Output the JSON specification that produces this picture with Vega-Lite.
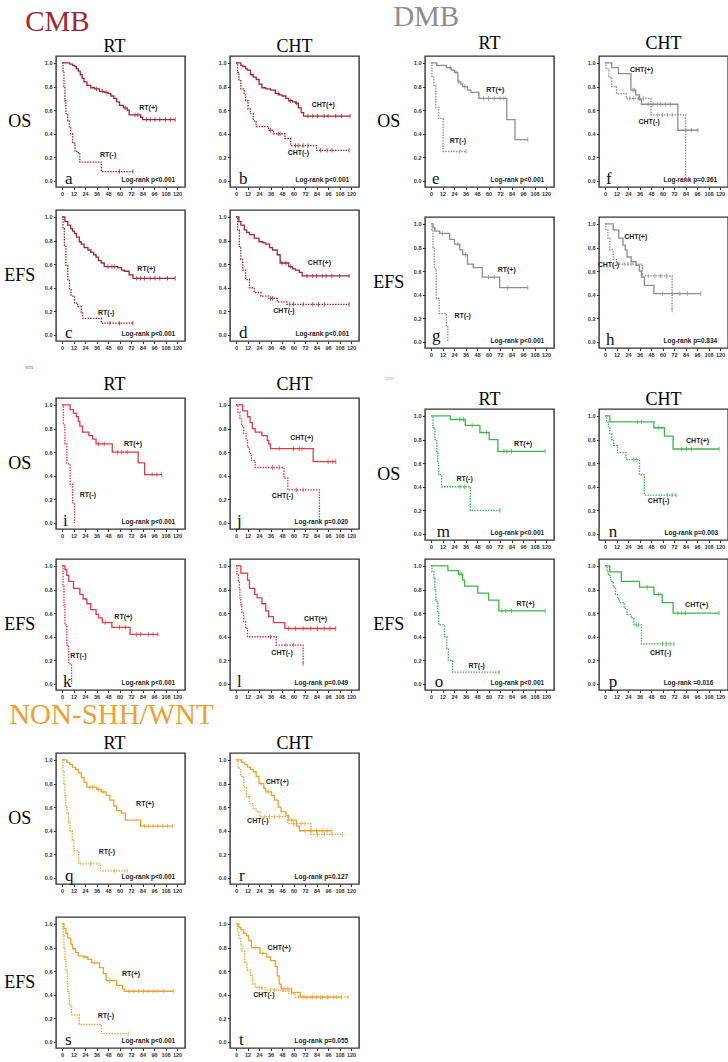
{
"$schema":"https://vega.github.io/schema/vega-lite/v6.json",
"background":"white",
"padding":{"left":3,"top":3,"right":0,"bottom":0},
"config":{
 "view":{"stroke":"#333","strokeWidth":1.4},
 "axis":{"domain":false,"grid":false,"tickSize":2.5,"tickColor":"#333","labelFont":"Liberation Sans","labelFontSize":5.5,"labelFontWeight":"bold","labelColor":"#333","labelPadding":1.5,"titleFont":"Liberation Serif","titleFontSize":18,"titleFontWeight":"normal","titleColor":"#000"},
 "axisY":{"titleAngle":0,"titleAlign":"center","titleBaseline":"middle","titlePadding":25},
 "title":{"font":"Liberation Serif","fontSize":18,"fontWeight":"normal","color":"#000","baseline":"alphabetic"}
},
"datasets":{
"km":[
{"p":"a","g":"+","t":0,"s":1},{"p":"a","g":"+","t":8,"s":0.99},{"p":"a","g":"+","t":11,"s":0.98},{"p":"a","g":"+","t":13,"s":0.97},{"p":"a","g":"+","t":15,"s":0.95},{"p":"a","g":"+","t":17,"s":0.93},{"p":"a","g":"+","t":19,"s":0.9},{"p":"a","g":"+","t":21,"s":0.87},{"p":"a","g":"+","t":23,"s":0.84},{"p":"a","g":"+","t":26,"s":0.81},{"p":"a","g":"+","t":30,"s":0.79},{"p":"a","g":"+","t":34,"s":0.78},{"p":"a","g":"+","t":39,"s":0.76},{"p":"a","g":"+","t":44,"s":0.75},{"p":"a","g":"+","t":48,"s":0.74},{"p":"a","g":"+","t":51,"s":0.72},{"p":"a","g":"+","t":54,"s":0.7},{"p":"a","g":"+","t":57,"s":0.67},{"p":"a","g":"+","t":60,"s":0.64},{"p":"a","g":"+","t":64,"s":0.62},{"p":"a","g":"+","t":68,"s":0.6},{"p":"a","g":"+","t":70,"s":0.56},{"p":"a","g":"+","t":82,"s":0.54},{"p":"a","g":"+","t":84,"s":0.52},
{"p":"a","g":"+","t":36,"s":0.78,"c":1},{"p":"a","g":"+","t":42,"s":0.76,"c":1},{"p":"a","g":"+","t":46,"s":0.75,"c":1},{"p":"a","g":"+","t":66,"s":0.62,"c":1},{"p":"a","g":"+","t":76,"s":0.56,"c":1},{"p":"a","g":"+","t":79,"s":0.56,"c":1},{"p":"a","g":"+","t":88,"s":0.52,"c":1},{"p":"a","g":"+","t":92,"s":0.52,"c":1},{"p":"a","g":"+","t":97,"s":0.52,"c":1},{"p":"a","g":"+","t":102,"s":0.52,"c":1},{"p":"a","g":"+","t":108,"s":0.52,"c":1},{"p":"a","g":"+","t":113,"s":0.52,"c":1},{"p":"a","g":"+","t":118,"s":0.52,"c":1},
{"p":"a","g":"-","t":0,"s":1},{"p":"a","g":"-","t":1,"s":0.92},{"p":"a","g":"-","t":2,"s":0.8},{"p":"a","g":"-","t":3,"s":0.68},{"p":"a","g":"-","t":4,"s":0.57},{"p":"a","g":"-","t":6,"s":0.51},{"p":"a","g":"-","t":7.5,"s":0.46},{"p":"a","g":"-","t":9,"s":0.4},{"p":"a","g":"-","t":11,"s":0.32},{"p":"a","g":"-","t":13.5,"s":0.25},{"p":"a","g":"-","t":17,"s":0.23},{"p":"a","g":"-","t":18.5,"s":0.16},{"p":"a","g":"-","t":41,"s":0.08},{"p":"a","g":"-","t":60,"s":0.08,"c":1},{"p":"a","g":"-","t":74,"s":0.08,"c":1},

{"p":"b","g":"+","t":0,"s":1},{"p":"b","g":"+","t":5,"s":0.98},{"p":"b","g":"+","t":7,"s":0.97},{"p":"b","g":"+","t":10,"s":0.95},{"p":"b","g":"+","t":12,"s":0.94},{"p":"b","g":"+","t":15,"s":0.9},{"p":"b","g":"+","t":18,"s":0.88},{"p":"b","g":"+","t":21,"s":0.86},{"p":"b","g":"+","t":24,"s":0.82},{"p":"b","g":"+","t":27,"s":0.79},{"p":"b","g":"+","t":31,"s":0.78},{"p":"b","g":"+","t":36,"s":0.77},{"p":"b","g":"+","t":41,"s":0.74},{"p":"b","g":"+","t":45,"s":0.73},{"p":"b","g":"+","t":48,"s":0.72},{"p":"b","g":"+","t":52,"s":0.7},{"p":"b","g":"+","t":55,"s":0.68},{"p":"b","g":"+","t":59,"s":0.67},{"p":"b","g":"+","t":62,"s":0.66},{"p":"b","g":"+","t":65,"s":0.62},{"p":"b","g":"+","t":68,"s":0.58},{"p":"b","g":"+","t":70.5,"s":0.55},
{"p":"b","g":"+","t":44,"s":0.74,"c":1},{"p":"b","g":"+","t":57,"s":0.68,"c":1},{"p":"b","g":"+","t":63,"s":0.66,"c":1},{"p":"b","g":"+","t":75,"s":0.55,"c":1},{"p":"b","g":"+","t":80,"s":0.55,"c":1},{"p":"b","g":"+","t":85,"s":0.55,"c":1},{"p":"b","g":"+","t":92,"s":0.55,"c":1},{"p":"b","g":"+","t":96,"s":0.55,"c":1},{"p":"b","g":"+","t":104,"s":0.55,"c":1},{"p":"b","g":"+","t":110,"s":0.55,"c":1},{"p":"b","g":"+","t":119,"s":0.55,"c":1},
{"p":"b","g":"-","t":0,"s":1},{"p":"b","g":"-","t":1.5,"s":0.92},{"p":"b","g":"-","t":3,"s":0.85},{"p":"b","g":"-","t":5,"s":0.78},{"p":"b","g":"-","t":8.5,"s":0.73},{"p":"b","g":"-","t":10,"s":0.68},{"p":"b","g":"-","t":12.5,"s":0.61},{"p":"b","g":"-","t":15,"s":0.57},{"p":"b","g":"-","t":18,"s":0.51},{"p":"b","g":"-","t":21,"s":0.46},{"p":"b","g":"-","t":34,"s":0.43},{"p":"b","g":"-","t":39,"s":0.4},{"p":"b","g":"-","t":51,"s":0.36},{"p":"b","g":"-","t":57,"s":0.3},{"p":"b","g":"-","t":84,"s":0.26},
{"p":"b","g":"-","t":36,"s":0.43,"c":1},{"p":"b","g":"-","t":44,"s":0.4,"c":1},{"p":"b","g":"-","t":46,"s":0.4,"c":1},{"p":"b","g":"-","t":62,"s":0.3,"c":1},{"p":"b","g":"-","t":65,"s":0.3,"c":1},{"p":"b","g":"-","t":70,"s":0.3,"c":1},{"p":"b","g":"-","t":75,"s":0.3,"c":1},{"p":"b","g":"-","t":88,"s":0.26,"c":1},{"p":"b","g":"-","t":95,"s":0.26,"c":1},{"p":"b","g":"-","t":100,"s":0.26,"c":1},{"p":"b","g":"-","t":118,"s":0.26,"c":1},

{"p":"c","g":"+","t":0,"s":1},{"p":"c","g":"+","t":3,"s":0.96},{"p":"c","g":"+","t":6,"s":0.93},{"p":"c","g":"+","t":9,"s":0.9},{"p":"c","g":"+","t":11,"s":0.88},{"p":"c","g":"+","t":13,"s":0.86},{"p":"c","g":"+","t":15,"s":0.83},{"p":"c","g":"+","t":18,"s":0.79},{"p":"c","g":"+","t":20,"s":0.77},{"p":"c","g":"+","t":23,"s":0.74},{"p":"c","g":"+","t":27,"s":0.72},{"p":"c","g":"+","t":30,"s":0.7},{"p":"c","g":"+","t":33,"s":0.68},{"p":"c","g":"+","t":35.5,"s":0.66},{"p":"c","g":"+","t":38,"s":0.63},{"p":"c","g":"+","t":41,"s":0.61},{"p":"c","g":"+","t":44,"s":0.58},{"p":"c","g":"+","t":58,"s":0.57},{"p":"c","g":"+","t":62,"s":0.55},{"p":"c","g":"+","t":65,"s":0.54},{"p":"c","g":"+","t":70,"s":0.51},{"p":"c","g":"+","t":74,"s":0.48},
{"p":"c","g":"+","t":48,"s":0.58,"c":1},{"p":"c","g":"+","t":52,"s":0.58,"c":1},{"p":"c","g":"+","t":55,"s":0.58,"c":1},{"p":"c","g":"+","t":78,"s":0.48,"c":1},{"p":"c","g":"+","t":82,"s":0.48,"c":1},{"p":"c","g":"+","t":86,"s":0.48,"c":1},{"p":"c","g":"+","t":92,"s":0.48,"c":1},{"p":"c","g":"+","t":97,"s":0.48,"c":1},{"p":"c","g":"+","t":102,"s":0.48,"c":1},{"p":"c","g":"+","t":110,"s":0.48,"c":1},{"p":"c","g":"+","t":118,"s":0.48,"c":1},
{"p":"c","g":"-","t":0,"s":1},{"p":"c","g":"-","t":1,"s":0.9},{"p":"c","g":"-","t":2.4,"s":0.76},{"p":"c","g":"-","t":4,"s":0.59},{"p":"c","g":"-","t":6,"s":0.47},{"p":"c","g":"-","t":7.7,"s":0.39},{"p":"c","g":"-","t":9.4,"s":0.33},{"p":"c","g":"-","t":13,"s":0.27},{"p":"c","g":"-","t":16.4,"s":0.24},{"p":"c","g":"-","t":20,"s":0.19},{"p":"c","g":"-","t":21.6,"s":0.14},{"p":"c","g":"-","t":41,"s":0.1},{"p":"c","g":"-","t":50,"s":0.1,"c":1},{"p":"c","g":"-","t":60,"s":0.1,"c":1},{"p":"c","g":"-","t":74,"s":0.1,"c":1},

{"p":"d","g":"+","t":0,"s":1},{"p":"d","g":"+","t":3,"s":0.96},{"p":"d","g":"+","t":5,"s":0.93},{"p":"d","g":"+","t":8.6,"s":0.89},{"p":"d","g":"+","t":11,"s":0.87},{"p":"d","g":"+","t":14,"s":0.85},{"p":"d","g":"+","t":19,"s":0.82},{"p":"d","g":"+","t":24,"s":0.79},{"p":"d","g":"+","t":28,"s":0.78},{"p":"d","g":"+","t":31,"s":0.77},{"p":"d","g":"+","t":35,"s":0.74},{"p":"d","g":"+","t":38,"s":0.72},{"p":"d","g":"+","t":43,"s":0.68},{"p":"d","g":"+","t":46,"s":0.61},{"p":"d","g":"+","t":55,"s":0.58},{"p":"d","g":"+","t":59,"s":0.56},{"p":"d","g":"+","t":62,"s":0.55},{"p":"d","g":"+","t":66,"s":0.53},{"p":"d","g":"+","t":69,"s":0.5},
{"p":"d","g":"+","t":48,"s":0.61,"c":1},{"p":"d","g":"+","t":52,"s":0.61,"c":1},{"p":"d","g":"+","t":57,"s":0.58,"c":1},{"p":"d","g":"+","t":74,"s":0.5,"c":1},{"p":"d","g":"+","t":80,"s":0.5,"c":1},{"p":"d","g":"+","t":84,"s":0.5,"c":1},{"p":"d","g":"+","t":90,"s":0.5,"c":1},{"p":"d","g":"+","t":94,"s":0.5,"c":1},{"p":"d","g":"+","t":100,"s":0.5,"c":1},{"p":"d","g":"+","t":108,"s":0.5,"c":1},{"p":"d","g":"+","t":118,"s":0.5,"c":1},
{"p":"d","g":"-","t":0,"s":1},{"p":"d","g":"-","t":1.7,"s":0.89},{"p":"d","g":"-","t":3.4,"s":0.75},{"p":"d","g":"-","t":5,"s":0.64},{"p":"d","g":"-","t":7,"s":0.55},{"p":"d","g":"-","t":10,"s":0.47},{"p":"d","g":"-","t":14,"s":0.4},{"p":"d","g":"-","t":19,"s":0.36},{"p":"d","g":"-","t":26,"s":0.33},{"p":"d","g":"-","t":34,"s":0.31},{"p":"d","g":"-","t":43,"s":0.28},{"p":"d","g":"-","t":53,"s":0.26},
{"p":"d","g":"-","t":36,"s":0.31,"c":1},{"p":"d","g":"-","t":38,"s":0.31,"c":1},{"p":"d","g":"-","t":56,"s":0.26,"c":1},{"p":"d","g":"-","t":60,"s":0.26,"c":1},{"p":"d","g":"-","t":70,"s":0.26,"c":1},{"p":"d","g":"-","t":80,"s":0.26,"c":1},{"p":"d","g":"-","t":86,"s":0.26,"c":1},{"p":"d","g":"-","t":92,"s":0.26,"c":1},{"p":"d","g":"-","t":118,"s":0.26,"c":1},

{"p":"e","g":"+","t":0,"s":1},{"p":"e","g":"+","t":6,"s":0.98},{"p":"e","g":"+","t":16,"s":0.96},{"p":"e","g":"+","t":21,"s":0.94},{"p":"e","g":"+","t":24.5,"s":0.92},{"p":"e","g":"+","t":28,"s":0.84},{"p":"e","g":"+","t":31,"s":0.82},{"p":"e","g":"+","t":33,"s":0.8},{"p":"e","g":"+","t":38,"s":0.77},{"p":"e","g":"+","t":41.6,"s":0.75},{"p":"e","g":"+","t":50,"s":0.7},{"p":"e","g":"+","t":79,"s":0.52},{"p":"e","g":"+","t":87.6,"s":0.35},
{"p":"e","g":"+","t":20,"s":0.96,"c":1},{"p":"e","g":"+","t":26,"s":0.92,"c":1},{"p":"e","g":"+","t":29,"s":0.84,"c":1},{"p":"e","g":"+","t":35,"s":0.8,"c":1},{"p":"e","g":"+","t":55,"s":0.7,"c":1},{"p":"e","g":"+","t":60,"s":0.7,"c":1},{"p":"e","g":"+","t":66,"s":0.7,"c":1},{"p":"e","g":"+","t":72,"s":0.7,"c":1},{"p":"e","g":"+","t":76,"s":0.7,"c":1},{"p":"e","g":"+","t":101,"s":0.35,"c":1},
{"p":"e","g":"-","t":0,"s":1},{"p":"e","g":"-","t":1,"s":0.88},{"p":"e","g":"-","t":3,"s":0.81},{"p":"e","g":"-","t":5,"s":0.62},{"p":"e","g":"-","t":8,"s":0.53},{"p":"e","g":"-","t":12.6,"s":0.25},{"p":"e","g":"-","t":30,"s":0.25,"c":1},{"p":"e","g":"-","t":36.5,"s":0.25,"c":1},

{"p":"f","g":"+","t":0,"s":1},{"p":"f","g":"+","t":7,"s":0.96},{"p":"f","g":"+","t":14,"s":0.91},{"p":"f","g":"+","t":27,"s":0.77},{"p":"f","g":"+","t":32,"s":0.73},{"p":"f","g":"+","t":36,"s":0.69},{"p":"f","g":"+","t":38,"s":0.65},{"p":"f","g":"+","t":76,"s":0.43},
{"p":"f","g":"+","t":29,"s":0.77,"c":1},{"p":"f","g":"+","t":31,"s":0.77,"c":1},{"p":"f","g":"+","t":45,"s":0.65,"c":1},{"p":"f","g":"+","t":50,"s":0.65,"c":1},{"p":"f","g":"+","t":55,"s":0.65,"c":1},{"p":"f","g":"+","t":58,"s":0.65,"c":1},{"p":"f","g":"+","t":63,"s":0.65,"c":1},{"p":"f","g":"+","t":68,"s":0.65,"c":1},{"p":"f","g":"+","t":90,"s":0.43,"c":1},{"p":"f","g":"+","t":97,"s":0.43,"c":1},
{"p":"f","g":"-","t":0,"s":1},{"p":"f","g":"-","t":1,"s":0.95},{"p":"f","g":"-","t":4,"s":0.88},{"p":"f","g":"-","t":7,"s":0.8},{"p":"f","g":"-","t":12,"s":0.74},{"p":"f","g":"-","t":22,"s":0.7},{"p":"f","g":"-","t":48,"s":0.56},{"p":"f","g":"-","t":84,"s":0},
{"p":"f","g":"-","t":26,"s":0.7,"c":1},{"p":"f","g":"-","t":30,"s":0.7,"c":1},{"p":"f","g":"-","t":35,"s":0.7,"c":1},{"p":"f","g":"-","t":40,"s":0.7,"c":1},{"p":"f","g":"-","t":55,"s":0.56,"c":1},{"p":"f","g":"-","t":60,"s":0.56,"c":1},{"p":"f","g":"-","t":65,"s":0.56,"c":1},{"p":"f","g":"-","t":70,"s":0.56,"c":1},

{"p":"g","g":"+","t":0,"s":1},{"p":"g","g":"+","t":2,"s":0.97},{"p":"g","g":"+","t":4,"s":0.94},{"p":"g","g":"+","t":9,"s":0.92},{"p":"g","g":"+","t":19.4,"s":0.87},{"p":"g","g":"+","t":24.5,"s":0.83},{"p":"g","g":"+","t":30,"s":0.78},{"p":"g","g":"+","t":33,"s":0.74},{"p":"g","g":"+","t":38,"s":0.66},{"p":"g","g":"+","t":44,"s":0.63},{"p":"g","g":"+","t":53.5,"s":0.55},{"p":"g","g":"+","t":71.6,"s":0.46},
{"p":"g","g":"+","t":12,"s":0.92,"c":1},{"p":"g","g":"+","t":28,"s":0.83,"c":1},{"p":"g","g":"+","t":36,"s":0.74,"c":1},{"p":"g","g":"+","t":60,"s":0.55,"c":1},{"p":"g","g":"+","t":66,"s":0.55,"c":1},{"p":"g","g":"+","t":80,"s":0.46,"c":1},{"p":"g","g":"+","t":101,"s":0.46,"c":1},
{"p":"g","g":"-","t":0,"s":1},{"p":"g","g":"-","t":1,"s":0.95},{"p":"g","g":"-","t":2,"s":0.8},{"p":"g","g":"-","t":3.5,"s":0.62},{"p":"g","g":"-","t":5.5,"s":0.37},{"p":"g","g":"-","t":8.5,"s":0.24},{"p":"g","g":"-","t":16,"s":0.14},{"p":"g","g":"-","t":17.5,"s":0},

{"p":"h","g":"+","t":0,"s":1},{"p":"h","g":"+","t":8.5,"s":0.95},{"p":"h","g":"+","t":14.3,"s":0.88},{"p":"h","g":"+","t":18.8,"s":0.82},{"p":"h","g":"+","t":21,"s":0.78},{"p":"h","g":"+","t":23,"s":0.72},{"p":"h","g":"+","t":27.3,"s":0.68},{"p":"h","g":"+","t":32.4,"s":0.65},{"p":"h","g":"+","t":35.8,"s":0.6},{"p":"h","g":"+","t":38,"s":0.55},{"p":"h","g":"+","t":41,"s":0.48},{"p":"h","g":"+","t":51,"s":0.41},
{"p":"h","g":"+","t":60,"s":0.41,"c":1},{"p":"h","g":"+","t":70,"s":0.41,"c":1},{"p":"h","g":"+","t":78,"s":0.41,"c":1},{"p":"h","g":"+","t":86,"s":0.41,"c":1},{"p":"h","g":"+","t":100,"s":0.41,"c":1},
{"p":"h","g":"-","t":0,"s":1},{"p":"h","g":"-","t":1,"s":0.95},{"p":"h","g":"-","t":3,"s":0.88},{"p":"h","g":"-","t":5,"s":0.78},{"p":"h","g":"-","t":8.5,"s":0.7},{"p":"h","g":"-","t":12,"s":0.66},{"p":"h","g":"-","t":39,"s":0.56},{"p":"h","g":"-","t":70,"s":0.27,"c":1},
{"p":"h","g":"-","t":20,"s":0.66,"c":1},{"p":"h","g":"-","t":24,"s":0.66,"c":1},{"p":"h","g":"-","t":28,"s":0.66,"c":1},{"p":"h","g":"-","t":45,"s":0.56,"c":1},{"p":"h","g":"-","t":52,"s":0.56,"c":1},{"p":"h","g":"-","t":58,"s":0.56,"c":1},{"p":"h","g":"-","t":64,"s":0.56,"c":1},

{"p":"i","g":"+","t":0,"s":1},{"p":"i","g":"+","t":8.5,"s":0.96},{"p":"i","g":"+","t":11.8,"s":0.93},{"p":"i","g":"+","t":15,"s":0.9},{"p":"i","g":"+","t":17,"s":0.86},{"p":"i","g":"+","t":18.6,"s":0.82},{"p":"i","g":"+","t":21.3,"s":0.77},{"p":"i","g":"+","t":28,"s":0.74},{"p":"i","g":"+","t":32,"s":0.71},{"p":"i","g":"+","t":35.5,"s":0.67},{"p":"i","g":"+","t":52.4,"s":0.6},{"p":"i","g":"+","t":79.4,"s":0.51},{"p":"i","g":"+","t":86.2,"s":0.41},
{"p":"i","g":"+","t":38,"s":0.67,"c":1},{"p":"i","g":"+","t":44,"s":0.67,"c":1},{"p":"i","g":"+","t":58,"s":0.6,"c":1},{"p":"i","g":"+","t":62,"s":0.6,"c":1},{"p":"i","g":"+","t":68,"s":0.6,"c":1},{"p":"i","g":"+","t":94,"s":0.41,"c":1},{"p":"i","g":"+","t":99,"s":0.41,"c":1},{"p":"i","g":"+","t":104,"s":0.41,"c":1},
{"p":"i","g":"-","t":0,"s":1},{"p":"i","g":"-","t":1.5,"s":0.83},{"p":"i","g":"-","t":3,"s":0.67},{"p":"i","g":"-","t":5,"s":0.5},{"p":"i","g":"-","t":8.5,"s":0.33},{"p":"i","g":"-","t":11,"s":0.17},{"p":"i","g":"-","t":13,"s":0},

{"p":"j","g":"+","t":0,"s":1},{"p":"j","g":"+","t":7,"s":0.95},{"p":"j","g":"+","t":12,"s":0.9},{"p":"j","g":"+","t":14.7,"s":0.85},{"p":"j","g":"+","t":17,"s":0.8},{"p":"j","g":"+","t":20,"s":0.77},{"p":"j","g":"+","t":27,"s":0.74},{"p":"j","g":"+","t":32.6,"s":0.7},{"p":"j","g":"+","t":34,"s":0.67},{"p":"j","g":"+","t":36,"s":0.63},{"p":"j","g":"+","t":80.5,"s":0.52},
{"p":"j","g":"+","t":45,"s":0.63,"c":1},{"p":"j","g":"+","t":60,"s":0.63,"c":1},{"p":"j","g":"+","t":66,"s":0.63,"c":1},{"p":"j","g":"+","t":69,"s":0.63,"c":1},{"p":"j","g":"+","t":96,"s":0.52,"c":1},{"p":"j","g":"+","t":101,"s":0.52,"c":1},{"p":"j","g":"+","t":104,"s":0.52,"c":1},
{"p":"j","g":"-","t":0,"s":1},{"p":"j","g":"-","t":2,"s":0.94},{"p":"j","g":"-","t":4,"s":0.88},{"p":"j","g":"-","t":6,"s":0.82},{"p":"j","g":"-","t":8,"s":0.76},{"p":"j","g":"-","t":10.5,"s":0.7},{"p":"j","g":"-","t":12,"s":0.64},{"p":"j","g":"-","t":14,"s":0.59},{"p":"j","g":"-","t":16,"s":0.53},{"p":"j","g":"-","t":20,"s":0.47},{"p":"j","g":"-","t":50,"s":0.38},{"p":"j","g":"-","t":54,"s":0.28},{"p":"j","g":"-","t":87,"s":0},
{"p":"j","g":"-","t":38,"s":0.47,"c":1},{"p":"j","g":"-","t":45,"s":0.47,"c":1},{"p":"j","g":"-","t":63,"s":0.28,"c":1},{"p":"j","g":"-","t":70,"s":0.28,"c":1},

{"p":"k","g":"+","t":0,"s":1},{"p":"k","g":"+","t":3,"s":0.97},{"p":"k","g":"+","t":5,"s":0.92},{"p":"k","g":"+","t":7,"s":0.87},{"p":"k","g":"+","t":12,"s":0.81},{"p":"k","g":"+","t":18.6,"s":0.76},{"p":"k","g":"+","t":22,"s":0.72},{"p":"k","g":"+","t":26,"s":0.68},{"p":"k","g":"+","t":30,"s":0.63},{"p":"k","g":"+","t":35.5,"s":0.59},{"p":"k","g":"+","t":38,"s":0.56},{"p":"k","g":"+","t":42,"s":0.52},{"p":"k","g":"+","t":52,"s":0.48},{"p":"k","g":"+","t":71,"s":0.42},
{"p":"k","g":"+","t":45,"s":0.52,"c":1},{"p":"k","g":"+","t":60,"s":0.48,"c":1},{"p":"k","g":"+","t":66,"s":0.48,"c":1},{"p":"k","g":"+","t":78,"s":0.42,"c":1},{"p":"k","g":"+","t":82,"s":0.42,"c":1},{"p":"k","g":"+","t":90,"s":0.42,"c":1},{"p":"k","g":"+","t":95,"s":0.42,"c":1},{"p":"k","g":"+","t":100,"s":0.42,"c":1},
{"p":"k","g":"-","t":0,"s":1},{"p":"k","g":"-","t":1,"s":0.83},{"p":"k","g":"-","t":2,"s":0.67},{"p":"k","g":"-","t":3,"s":0.5},{"p":"k","g":"-","t":5,"s":0.33},{"p":"k","g":"-","t":7,"s":0.17},{"p":"k","g":"-","t":10,"s":0},

{"p":"l","g":"+","t":0,"s":1},{"p":"l","g":"+","t":5,"s":0.94},{"p":"l","g":"+","t":12,"s":0.88},{"p":"l","g":"+","t":14,"s":0.81},{"p":"l","g":"+","t":19.5,"s":0.76},{"p":"l","g":"+","t":22,"s":0.73},{"p":"l","g":"+","t":27,"s":0.68},{"p":"l","g":"+","t":31,"s":0.62},{"p":"l","g":"+","t":34,"s":0.57},{"p":"l","g":"+","t":39,"s":0.52},{"p":"l","g":"+","t":51,"s":0.47},
{"p":"l","g":"+","t":55,"s":0.47,"c":1},{"p":"l","g":"+","t":62,"s":0.47,"c":1},{"p":"l","g":"+","t":70,"s":0.47,"c":1},{"p":"l","g":"+","t":78,"s":0.47,"c":1},{"p":"l","g":"+","t":85,"s":0.47,"c":1},{"p":"l","g":"+","t":92,"s":0.47,"c":1},{"p":"l","g":"+","t":98,"s":0.47,"c":1},{"p":"l","g":"+","t":104,"s":0.47,"c":1},
{"p":"l","g":"-","t":0,"s":1},{"p":"l","g":"-","t":1,"s":0.93},{"p":"l","g":"-","t":2.4,"s":0.87},{"p":"l","g":"-","t":3.4,"s":0.8},{"p":"l","g":"-","t":4,"s":0.73},{"p":"l","g":"-","t":5,"s":0.67},{"p":"l","g":"-","t":6,"s":0.6},{"p":"l","g":"-","t":8,"s":0.53},{"p":"l","g":"-","t":10,"s":0.47},{"p":"l","g":"-","t":12,"s":0.4},{"p":"l","g":"-","t":42,"s":0.33},{"p":"l","g":"-","t":70,"s":0.17,"c":1},
{"p":"l","g":"-","t":36,"s":0.4,"c":1},{"p":"l","g":"-","t":52,"s":0.33,"c":1},{"p":"l","g":"-","t":60,"s":0.33,"c":1},

{"p":"m","g":"+","t":0,"s":1},{"p":"m","g":"+","t":20,"s":0.97},{"p":"m","g":"+","t":35.7,"s":0.92},{"p":"m","g":"+","t":51,"s":0.86},{"p":"m","g":"+","t":60.7,"s":0.8},{"p":"m","g":"+","t":69.7,"s":0.7},
{"p":"m","g":"+","t":30,"s":0.97,"c":1},{"p":"m","g":"+","t":34,"s":0.97,"c":1},{"p":"m","g":"+","t":43,"s":0.92,"c":1},{"p":"m","g":"+","t":58,"s":0.86,"c":1},{"p":"m","g":"+","t":76,"s":0.7,"c":1},{"p":"m","g":"+","t":79,"s":0.7,"c":1},{"p":"m","g":"+","t":84,"s":0.7,"c":1},{"p":"m","g":"+","t":119,"s":0.7,"c":1},
{"p":"m","g":"-","t":0,"s":1},{"p":"m","g":"-","t":2,"s":0.9},{"p":"m","g":"-","t":4,"s":0.8},{"p":"m","g":"-","t":6,"s":0.7},{"p":"m","g":"-","t":7,"s":0.6},{"p":"m","g":"-","t":8,"s":0.5},{"p":"m","g":"-","t":11,"s":0.4},{"p":"m","g":"-","t":41,"s":0.2},
{"p":"m","g":"-","t":30,"s":0.4,"c":1},{"p":"m","g":"-","t":35,"s":0.4,"c":1},{"p":"m","g":"-","t":72,"s":0.2,"c":1},

{"p":"n","g":"+","t":0,"s":1},{"p":"n","g":"+","t":5,"s":0.95},{"p":"n","g":"+","t":51,"s":0.9},{"p":"n","g":"+","t":62,"s":0.83},{"p":"n","g":"+","t":71,"s":0.72},
{"p":"n","g":"+","t":34,"s":0.95,"c":1},{"p":"n","g":"+","t":38,"s":0.95,"c":1},{"p":"n","g":"+","t":56,"s":0.9,"c":1},{"p":"n","g":"+","t":80,"s":0.72,"c":1},{"p":"n","g":"+","t":85,"s":0.72,"c":1},{"p":"n","g":"+","t":90,"s":0.72,"c":1},{"p":"n","g":"+","t":119,"s":0.72,"c":1},
{"p":"n","g":"-","t":0,"s":1},{"p":"n","g":"-","t":1.5,"s":0.95},{"p":"n","g":"-","t":3.5,"s":0.9},{"p":"n","g":"-","t":5,"s":0.85},{"p":"n","g":"-","t":7,"s":0.8},{"p":"n","g":"-","t":9,"s":0.75},{"p":"n","g":"-","t":13,"s":0.69},{"p":"n","g":"-","t":22,"s":0.63},{"p":"n","g":"-","t":36,"s":0.5},{"p":"n","g":"-","t":41,"s":0.33},
{"p":"n","g":"-","t":30,"s":0.63,"c":1},{"p":"n","g":"-","t":33,"s":0.63,"c":1},{"p":"n","g":"-","t":65,"s":0.33,"c":1},{"p":"n","g":"-","t":70,"s":0.33,"c":1},{"p":"n","g":"-","t":74,"s":0.33,"c":1},

{"p":"o","g":"+","t":0,"s":1},{"p":"o","g":"+","t":17.6,"s":0.96},{"p":"o","g":"+","t":28.6,"s":0.93},{"p":"o","g":"+","t":33,"s":0.88},{"p":"o","g":"+","t":35,"s":0.83},{"p":"o","g":"+","t":48.8,"s":0.77},{"p":"o","g":"+","t":60,"s":0.71},{"p":"o","g":"+","t":70.7,"s":0.62},
{"p":"o","g":"+","t":30,"s":0.93,"c":1},{"p":"o","g":"+","t":32,"s":0.93,"c":1},{"p":"o","g":"+","t":74,"s":0.62,"c":1},{"p":"o","g":"+","t":78,"s":0.62,"c":1},{"p":"o","g":"+","t":84,"s":0.62,"c":1},{"p":"o","g":"+","t":119,"s":0.62,"c":1},
{"p":"o","g":"-","t":0,"s":1},{"p":"o","g":"-","t":1,"s":0.95},{"p":"o","g":"-","t":3,"s":0.9},{"p":"o","g":"-","t":4,"s":0.8},{"p":"o","g":"-","t":5,"s":0.7},{"p":"o","g":"-","t":7,"s":0.6},{"p":"o","g":"-","t":8,"s":0.5},{"p":"o","g":"-","t":14,"s":0.4},{"p":"o","g":"-","t":16.5,"s":0.3},{"p":"o","g":"-","t":18,"s":0.2},{"p":"o","g":"-","t":22.5,"s":0.1},{"p":"o","g":"-","t":71,"s":0.1,"c":1},

{"p":"p","g":"+","t":0,"s":1},{"p":"p","g":"+","t":5,"s":0.95},{"p":"p","g":"+","t":17,"s":0.87},{"p":"p","g":"+","t":36,"s":0.82},{"p":"p","g":"+","t":51,"s":0.76},{"p":"p","g":"+","t":59.6,"s":0.69},{"p":"p","g":"+","t":71,"s":0.6},
{"p":"p","g":"+","t":44,"s":0.82,"c":1},{"p":"p","g":"+","t":56,"s":0.76,"c":1},{"p":"p","g":"+","t":76,"s":0.6,"c":1},{"p":"p","g":"+","t":80,"s":0.6,"c":1},{"p":"p","g":"+","t":84,"s":0.6,"c":1},{"p":"p","g":"+","t":119,"s":0.6,"c":1},
{"p":"p","g":"-","t":0,"s":1},{"p":"p","g":"-","t":2,"s":0.95},{"p":"p","g":"-","t":3.5,"s":0.92},{"p":"p","g":"-","t":6,"s":0.87},{"p":"p","g":"-","t":8.5,"s":0.82},{"p":"p","g":"-","t":11,"s":0.76},{"p":"p","g":"-","t":13,"s":0.72},{"p":"p","g":"-","t":15,"s":0.69},{"p":"p","g":"-","t":20,"s":0.64},{"p":"p","g":"-","t":23,"s":0.59},{"p":"p","g":"-","t":27,"s":0.56},{"p":"p","g":"-","t":30,"s":0.5},{"p":"p","g":"-","t":38,"s":0.34},
{"p":"p","g":"-","t":33,"s":0.5,"c":1},{"p":"p","g":"-","t":35,"s":0.5,"c":1},{"p":"p","g":"-","t":60,"s":0.34,"c":1},{"p":"p","g":"-","t":64,"s":0.34,"c":1},{"p":"p","g":"-","t":68,"s":0.34,"c":1},{"p":"p","g":"-","t":72,"s":0.34,"c":1},

{"p":"q","g":"+","t":0,"s":1},{"p":"q","g":"+","t":5,"s":0.98},{"p":"q","g":"+","t":8,"s":0.96},{"p":"q","g":"+","t":11,"s":0.94},{"p":"q","g":"+","t":14,"s":0.92},{"p":"q","g":"+","t":17,"s":0.89},{"p":"q","g":"+","t":20,"s":0.85},{"p":"q","g":"+","t":23,"s":0.81},{"p":"q","g":"+","t":26,"s":0.77},{"p":"q","g":"+","t":36,"s":0.75},{"p":"q","g":"+","t":41,"s":0.73},{"p":"q","g":"+","t":46,"s":0.7},{"p":"q","g":"+","t":50,"s":0.66},{"p":"q","g":"+","t":54,"s":0.61},{"p":"q","g":"+","t":57,"s":0.57},{"p":"q","g":"+","t":62,"s":0.55},{"p":"q","g":"+","t":66,"s":0.49},{"p":"q","g":"+","t":82,"s":0.44},
{"p":"q","g":"+","t":29,"s":0.77,"c":1},{"p":"q","g":"+","t":32,"s":0.77,"c":1},{"p":"q","g":"+","t":38,"s":0.75,"c":1},{"p":"q","g":"+","t":43,"s":0.73,"c":1},{"p":"q","g":"+","t":86,"s":0.44,"c":1},{"p":"q","g":"+","t":90,"s":0.44,"c":1},{"p":"q","g":"+","t":95,"s":0.44,"c":1},{"p":"q","g":"+","t":100,"s":0.44,"c":1},{"p":"q","g":"+","t":105,"s":0.44,"c":1},{"p":"q","g":"+","t":110,"s":0.44,"c":1},{"p":"q","g":"+","t":115,"s":0.44,"c":1},
{"p":"q","g":"-","t":0,"s":1},{"p":"q","g":"-","t":1,"s":0.9},{"p":"q","g":"-","t":2,"s":0.8},{"p":"q","g":"-","t":3,"s":0.7},{"p":"q","g":"-","t":4,"s":0.6},{"p":"q","g":"-","t":5,"s":0.55},{"p":"q","g":"-","t":6.7,"s":0.47},{"p":"q","g":"-","t":8.3,"s":0.4},{"p":"q","g":"-","t":10.7,"s":0.32},{"p":"q","g":"-","t":12.3,"s":0.23},{"p":"q","g":"-","t":17.3,"s":0.12},{"p":"q","g":"-","t":40,"s":0.06},
{"p":"q","g":"-","t":30,"s":0.12,"c":1},{"p":"q","g":"-","t":55,"s":0.06,"c":1},{"p":"q","g":"-","t":68,"s":0.06,"c":1},

{"p":"r","g":"+","t":0,"s":1},{"p":"r","g":"+","t":6,"s":0.98},{"p":"r","g":"+","t":9,"s":0.96},{"p":"r","g":"+","t":12,"s":0.94},{"p":"r","g":"+","t":15,"s":0.92},{"p":"r","g":"+","t":18,"s":0.9},{"p":"r","g":"+","t":21,"s":0.86},{"p":"r","g":"+","t":24,"s":0.8},{"p":"r","g":"+","t":29,"s":0.76},{"p":"r","g":"+","t":31,"s":0.73},{"p":"r","g":"+","t":37,"s":0.7},{"p":"r","g":"+","t":40,"s":0.66},{"p":"r","g":"+","t":44,"s":0.6},{"p":"r","g":"+","t":47,"s":0.56},{"p":"r","g":"+","t":52,"s":0.53},{"p":"r","g":"+","t":55,"s":0.49},{"p":"r","g":"+","t":63,"s":0.44},{"p":"r","g":"+","t":66,"s":0.4},
{"p":"r","g":"+","t":26,"s":0.8,"c":1},{"p":"r","g":"+","t":34,"s":0.73,"c":1},{"p":"r","g":"+","t":58,"s":0.49,"c":1},{"p":"r","g":"+","t":72,"s":0.4,"c":1},{"p":"r","g":"+","t":78,"s":0.4,"c":1},{"p":"r","g":"+","t":84,"s":0.4,"c":1},{"p":"r","g":"+","t":90,"s":0.4,"c":1},{"p":"r","g":"+","t":95,"s":0.4,"c":1},{"p":"r","g":"+","t":100,"s":0.4,"c":1},
{"p":"r","g":"-","t":0,"s":1},{"p":"r","g":"-","t":2,"s":0.93},{"p":"r","g":"-","t":5,"s":0.86},{"p":"r","g":"-","t":8,"s":0.77},{"p":"r","g":"-","t":11,"s":0.69},{"p":"r","g":"-","t":14,"s":0.63},{"p":"r","g":"-","t":18,"s":0.59},{"p":"r","g":"-","t":21,"s":0.56},{"p":"r","g":"-","t":25,"s":0.52},{"p":"r","g":"-","t":54,"s":0.46},{"p":"r","g":"-","t":78,"s":0.37},
{"p":"r","g":"-","t":30,"s":0.52,"c":1},{"p":"r","g":"-","t":35,"s":0.52,"c":1},{"p":"r","g":"-","t":40,"s":0.52,"c":1},{"p":"r","g":"-","t":45,"s":0.52,"c":1},{"p":"r","g":"-","t":60,"s":0.46,"c":1},{"p":"r","g":"-","t":68,"s":0.46,"c":1},{"p":"r","g":"-","t":72,"s":0.46,"c":1},{"p":"r","g":"-","t":85,"s":0.37,"c":1},{"p":"r","g":"-","t":92,"s":0.37,"c":1},{"p":"r","g":"-","t":100,"s":0.37,"c":1},{"p":"r","g":"-","t":111,"s":0.37,"c":1},

{"p":"s","g":"+","t":0,"s":1},{"p":"s","g":"+","t":2,"s":0.96},{"p":"s","g":"+","t":4,"s":0.92},{"p":"s","g":"+","t":6,"s":0.88},{"p":"s","g":"+","t":9,"s":0.83},{"p":"s","g":"+","t":11,"s":0.79},{"p":"s","g":"+","t":14,"s":0.76},{"p":"s","g":"+","t":17,"s":0.73},{"p":"s","g":"+","t":22,"s":0.72},{"p":"s","g":"+","t":27,"s":0.7},{"p":"s","g":"+","t":31,"s":0.67},{"p":"s","g":"+","t":39,"s":0.63},{"p":"s","g":"+","t":43,"s":0.58},{"p":"s","g":"+","t":46,"s":0.52},{"p":"s","g":"+","t":57,"s":0.48},{"p":"s","g":"+","t":63,"s":0.45},{"p":"s","g":"+","t":65,"s":0.43},
{"p":"s","g":"+","t":24,"s":0.72,"c":1},{"p":"s","g":"+","t":34,"s":0.67,"c":1},{"p":"s","g":"+","t":50,"s":0.52,"c":1},{"p":"s","g":"+","t":70,"s":0.43,"c":1},{"p":"s","g":"+","t":75,"s":0.43,"c":1},{"p":"s","g":"+","t":80,"s":0.43,"c":1},{"p":"s","g":"+","t":85,"s":0.43,"c":1},{"p":"s","g":"+","t":90,"s":0.43,"c":1},{"p":"s","g":"+","t":95,"s":0.43,"c":1},{"p":"s","g":"+","t":100,"s":0.43,"c":1},{"p":"s","g":"+","t":106,"s":0.43,"c":1},{"p":"s","g":"+","t":116,"s":0.43,"c":1},
{"p":"s","g":"-","t":0,"s":1},{"p":"s","g":"-","t":1,"s":0.9},{"p":"s","g":"-","t":2,"s":0.8},{"p":"s","g":"-","t":3,"s":0.7},{"p":"s","g":"-","t":4,"s":0.6},{"p":"s","g":"-","t":5.5,"s":0.5},{"p":"s","g":"-","t":6,"s":0.43},{"p":"s","g":"-","t":7.5,"s":0.36},{"p":"s","g":"-","t":8,"s":0.31},{"p":"s","g":"-","t":10,"s":0.23},{"p":"s","g":"-","t":18,"s":0.15},{"p":"s","g":"-","t":41,"s":0.07},{"p":"s","g":"-","t":69,"s":0.07,"c":1},

{"p":"t","g":"+","t":0,"s":1},{"p":"t","g":"+","t":3,"s":0.97},{"p":"t","g":"+","t":5,"s":0.95},{"p":"t","g":"+","t":8,"s":0.92},{"p":"t","g":"+","t":11,"s":0.9},{"p":"t","g":"+","t":13,"s":0.86},{"p":"t","g":"+","t":16,"s":0.8},{"p":"t","g":"+","t":25,"s":0.75},{"p":"t","g":"+","t":32,"s":0.72},{"p":"t","g":"+","t":36,"s":0.69},{"p":"t","g":"+","t":41,"s":0.64},{"p":"t","g":"+","t":43,"s":0.56},{"p":"t","g":"+","t":45,"s":0.49},{"p":"t","g":"+","t":47,"s":0.45},{"p":"t","g":"+","t":58,"s":0.42},{"p":"t","g":"+","t":67,"s":0.38},
{"p":"t","g":"+","t":20,"s":0.8,"c":1},{"p":"t","g":"+","t":28,"s":0.75,"c":1},{"p":"t","g":"+","t":50,"s":0.45,"c":1},{"p":"t","g":"+","t":54,"s":0.45,"c":1},{"p":"t","g":"+","t":70,"s":0.38,"c":1},{"p":"t","g":"+","t":74,"s":0.38,"c":1},{"p":"t","g":"+","t":78,"s":0.38,"c":1},{"p":"t","g":"+","t":84,"s":0.38,"c":1},{"p":"t","g":"+","t":90,"s":0.38,"c":1},{"p":"t","g":"+","t":96,"s":0.38,"c":1},{"p":"t","g":"+","t":102,"s":0.38,"c":1},{"p":"t","g":"+","t":110,"s":0.38,"c":1},
{"p":"t","g":"-","t":0,"s":1},{"p":"t","g":"-","t":1.5,"s":0.94},{"p":"t","g":"-","t":3,"s":0.88},{"p":"t","g":"-","t":5,"s":0.82},{"p":"t","g":"-","t":6,"s":0.77},{"p":"t","g":"-","t":9,"s":0.67},{"p":"t","g":"-","t":11.5,"s":0.61},{"p":"t","g":"-","t":15,"s":0.56},{"p":"t","g":"-","t":17.5,"s":0.49},{"p":"t","g":"-","t":20,"s":0.46},{"p":"t","g":"-","t":30.5,"s":0.44},{"p":"t","g":"-","t":48,"s":0.43},{"p":"t","g":"-","t":55,"s":0.41},{"p":"t","g":"-","t":62,"s":0.38},
{"p":"t","g":"-","t":24,"s":0.46,"c":1},{"p":"t","g":"-","t":27,"s":0.46,"c":1},{"p":"t","g":"-","t":36,"s":0.44,"c":1},{"p":"t","g":"-","t":40,"s":0.44,"c":1},{"p":"t","g":"-","t":65,"s":0.38,"c":1},{"p":"t","g":"-","t":72,"s":0.38,"c":1},{"p":"t","g":"-","t":80,"s":0.38,"c":1},{"p":"t","g":"-","t":88,"s":0.38,"c":1},{"p":"t","g":"-","t":95,"s":0.38,"c":1},{"p":"t","g":"-","t":105,"s":0.38,"c":1},{"p":"t","g":"-","t":117,"s":0.38,"c":1}
],
"lab":[
{"p":"a","k":"c","t":90,"s":0.62,"txt":"RT(+)"},{"p":"a","k":"c","t":48,"s":0.22,"txt":"RT(-)"},{"p":"a","k":"l","t":3,"s":-0.025,"txt":"a"},{"p":"a","k":"r","t":118,"s":0.01,"txt":"Log-rank p<0.001"},
{"p":"b","k":"c","t":91,"s":0.64,"txt":"CHT(+)"},{"p":"b","k":"c","t":65,"s":0.24,"txt":"CHT(-)"},{"p":"b","k":"l","t":3,"s":-0.025,"txt":"b"},{"p":"b","k":"r","t":118,"s":0.01,"txt":"Log-rank p<0.001"},
{"p":"c","k":"c","t":88,"s":0.56,"txt":"RT(+)"},{"p":"c","k":"c","t":46,"s":0.19,"txt":"RT(-)"},{"p":"c","k":"l","t":3,"s":-0.025,"txt":"c"},{"p":"c","k":"r","t":118,"s":0.01,"txt":"Log-rank p<0.001"},
{"p":"d","k":"c","t":87,"s":0.61,"txt":"CHT(+)"},{"p":"d","k":"c","t":50,"s":0.2,"txt":"CHT(-)"},{"p":"d","k":"l","t":3,"s":-0.025,"txt":"d"},{"p":"d","k":"r","t":118,"s":0.01,"txt":"Log-rank p<0.001"},
{"p":"e","k":"c","t":67,"s":0.77,"txt":"RT(+)"},{"p":"e","k":"c","t":28,"s":0.34,"txt":"RT(-)"},{"p":"e","k":"l","t":1,"s":-0.025,"txt":"e"},{"p":"e","k":"r","t":118,"s":0.01,"txt":"Log-rank p<0.001"},
{"p":"f","k":"c","t":38,"s":0.94,"txt":"CHT(+)"},{"p":"f","k":"c","t":46,"s":0.5,"txt":"CHT(-)"},{"p":"f","k":"l","t":1,"s":-0.025,"txt":"f"},{"p":"f","k":"r","t":117,"s":0.01,"txt":"Log-rank p=0.361"},
{"p":"g","k":"c","t":79,"s":0.61,"txt":"RT(+)"},{"p":"g","k":"c","t":33,"s":0.22,"txt":"RT(-)"},{"p":"g","k":"l","t":1,"s":0.01,"txt":"g"},{"p":"g","k":"r","t":118,"s":0.01,"txt":"Log-rank p<0.001"},
{"p":"h","k":"c","t":32,"s":0.89,"txt":"CHT(+)"},{"p":"h","k":"c","t":3.5,"s":0.65,"txt":"CHT(-)"},{"p":"h","k":"l","t":1,"s":-0.025,"txt":"h"},{"p":"h","k":"r","t":117,"s":0.01,"txt":"Log-rank p=0.834"},
{"p":"i","k":"c","t":74,"s":0.67,"txt":"RT(+)"},{"p":"i","k":"c","t":27,"s":0.24,"txt":"RT(-)"},{"p":"i","k":"l","t":1,"s":-0.025,"txt":"i"},{"p":"i","k":"r","t":118,"s":0.01,"txt":"Log-rank p<0.001"},
{"p":"j","k":"c","t":68.6,"s":0.72,"txt":"CHT(+)"},{"p":"j","k":"c","t":48.5,"s":0.23,"txt":"CHT(-)"},{"p":"j","k":"l","t":1,"s":-0.025,"txt":"j"},{"p":"j","k":"r","t":117,"s":0.01,"txt":"Log-rank p=0.020"},
{"p":"k","k":"c","t":64,"s":0.57,"txt":"RT(+)"},{"p":"k","k":"c","t":17,"s":0.24,"txt":"RT(-)"},{"p":"k","k":"l","t":1,"s":-0.025,"txt":"k"},{"p":"k","k":"r","t":118,"s":0.01,"txt":"Log-rank p<0.001"},
{"p":"l","k":"c","t":83,"s":0.55,"txt":"CHT(+)"},{"p":"l","k":"c","t":48,"s":0.26,"txt":"CHT(-)"},{"p":"l","k":"l","t":1,"s":-0.025,"txt":"l"},{"p":"l","k":"r","t":117,"s":0.01,"txt":"Log-rank p=0.049"},
{"p":"m","k":"c","t":96,"s":0.76,"txt":"RT(+)"},{"p":"m","k":"c","t":35,"s":0.47,"txt":"RT(-)"},{"p":"m","k":"l","t":6,"s":-0.025,"txt":"m"},{"p":"m","k":"r","t":118,"s":0.01,"txt":"Log-rank p<0.001"},
{"p":"n","k":"c","t":96.6,"s":0.79,"txt":"CHT(+)"},{"p":"n","k":"c","t":55.8,"s":0.28,"txt":"CHT(-)"},{"p":"n","k":"l","t":4,"s":-0.025,"txt":"n"},{"p":"n","k":"r","t":118,"s":0.01,"txt":"Log-rank p=0.003"},
{"p":"o","k":"c","t":98.6,"s":0.68,"txt":"RT(+)"},{"p":"o","k":"c","t":47.6,"s":0.15,"txt":"RT(-)"},{"p":"o","k":"l","t":4,"s":-0.025,"txt":"o"},{"p":"o","k":"r","t":118,"s":0.01,"txt":"Log-rank p<0.001"},
{"p":"p","k":"c","t":95.6,"s":0.67,"txt":"CHT(+)"},{"p":"p","k":"c","t":58,"s":0.26,"txt":"CHT(-)"},{"p":"p","k":"l","t":4,"s":-0.025,"txt":"p"},{"p":"p","k":"r","t":113,"s":0.01,"txt":"Log-rank =0.016"},
{"p":"q","k":"c","t":86.7,"s":0.63,"txt":"RT(+)"},{"p":"q","k":"c","t":46.7,"s":0.22,"txt":"RT(-)"},{"p":"q","k":"l","t":3,"s":-0.025,"txt":"q"},{"p":"q","k":"r","t":118,"s":0.01,"txt":"Log-rank p<0.001"},
{"p":"r","k":"c","t":43,"s":0.81,"txt":"CHT(+)"},{"p":"r","k":"c","t":22.7,"s":0.48,"txt":"CHT(-)"},{"p":"r","k":"l","t":3,"s":-0.025,"txt":"r"},{"p":"r","k":"r","t":117,"s":0.01,"txt":"Log-rank p=0.127"},
{"p":"s","k":"c","t":72,"s":0.58,"txt":"RT(+)"},{"p":"s","k":"c","t":45.7,"s":0.22,"txt":"RT(-)"},{"p":"s","k":"l","t":3,"s":-0.025,"txt":"s"},{"p":"s","k":"r","t":118,"s":0.01,"txt":"Log-rank p<0.001"},
{"p":"t","k":"c","t":45,"s":0.8,"txt":"CHT(+)"},{"p":"t","k":"c","t":29,"s":0.4,"txt":"CHT(-)"},{"p":"t","k":"l","t":3,"s":-0.025,"txt":"t"},{"p":"t","k":"r","t":117,"s":0.01,"txt":"Log-rank p=0.055"}
]
},
"spacing":12,
"hconcat":[
{"spacing":0,"vconcat":[
 {"spacing":14,"vconcat":[
 {"title":{"text":"CMB","color":"#a3272d","fontSize":29,"anchor":"start","frame":"bounds","dx":22,"offset":0},"spacing":11,"vconcat":[
  {"spacing":31,"hconcat":[
   {"title":{"text":"RT","offset":0,"dx":-6},"width":129,"height":131,"encoding":{"x":{"field":"t","type":"quantitative","scale":{"domain":[-6.3,128.3],"nice":false,"zero":false},"axis":{"values":[0,12,24,36,48,60,72,84,96,108,120],"title":null}},"y":{"field":"s","type":"quantitative","scale":{"domain":[-0.051,1.059],"nice":false,"zero":false},"axis":{"values":[0,0.2,0.4,0.6,0.8,1],"format":".1f","title":"OS"}}},
    "layer":[
     {"data":{"name":"km"},"transform":[{"filter":"datum.p=='a'"}],"mark":{"type":"line","interpolate":"step-after","color":"#a3272d","strokeWidth":1.3},"encoding":{"strokeDash":{"field":"g","type":"nominal","scale":{"domain":["+","-"],"range":[[1,0],[1.5,1.2]]},"legend":null}}},
     {"data":{"name":"km"},"transform":[{"filter":"datum.p=='a'&&datum.c==1"}],"mark":{"type":"point","shape":"M0,-1L0,1","size":20,"filled":false,"color":"#a3272d","strokeWidth":0.8,"opacity":1}},
     {"data":{"name":"lab"},"transform":[{"filter":"datum.p=='a'&&datum.k=='c'"}],"mark":{"type":"text","font":"Liberation Sans","fontWeight":"bold","fontSize":7,"color":"#222"},"encoding":{"text":{"field":"txt"}}},
     {"data":{"name":"lab"},"transform":[{"filter":"datum.p=='a'&&datum.k=='r'"}],"mark":{"type":"text","font":"Liberation Sans","fontWeight":"bold","fontSize":6.5,"align":"right","color":"#222"},"encoding":{"text":{"field":"txt"}}},
     {"data":{"name":"lab"},"transform":[{"filter":"datum.p=='a'&&datum.k=='l'"}],"mark":{"type":"text","font":"Liberation Serif","fontSize":17,"align":"left","baseline":"alphabetic","color":"#111"},"encoding":{"text":{"field":"txt"}}}
    ]},
   {"title":{"text":"CHT","offset":0},"width":129,"height":131,"encoding":{"x":{"field":"t","type":"quantitative","scale":{"domain":[-6.3,128.3],"nice":false,"zero":false},"axis":{"values":[0,12,24,36,48,60,72,84,96,108,120],"title":null}},"y":{"field":"s","type":"quantitative","scale":{"domain":[-0.051,1.059],"nice":false,"zero":false},"axis":{"values":[0,0.2,0.4,0.6,0.8,1],"format":".1f","title":null}}},
    "layer":[
     {"data":{"name":"km"},"transform":[{"filter":"datum.p=='b'"}],"mark":{"type":"line","interpolate":"step-after","color":"#a3272d","strokeWidth":1.3},"encoding":{"strokeDash":{"field":"g","type":"nominal","scale":{"domain":["+","-"],"range":[[1,0],[1.5,1.2]]},"legend":null}}},
     {"data":{"name":"km"},"transform":[{"filter":"datum.p=='b'&&datum.c==1"}],"mark":{"type":"point","shape":"M0,-1L0,1","size":20,"filled":false,"color":"#a3272d","strokeWidth":0.8,"opacity":1}},
     {"data":{"name":"lab"},"transform":[{"filter":"datum.p=='b'&&datum.k=='c'"}],"mark":{"type":"text","font":"Liberation Sans","fontWeight":"bold","fontSize":7,"color":"#222"},"encoding":{"text":{"field":"txt"}}},
     {"data":{"name":"lab"},"transform":[{"filter":"datum.p=='b'&&datum.k=='r'"}],"mark":{"type":"text","font":"Liberation Sans","fontWeight":"bold","fontSize":6.5,"align":"right","color":"#222"},"encoding":{"text":{"field":"txt"}}},
     {"data":{"name":"lab"},"transform":[{"filter":"datum.p=='b'&&datum.k=='l'"}],"mark":{"type":"text","font":"Liberation Serif","fontSize":17,"align":"left","baseline":"alphabetic","color":"#111"},"encoding":{"text":{"field":"txt"}}}
    ]}
  ]},
  {"spacing":31,"hconcat":[
   {"width":129,"height":131,"encoding":{"x":{"field":"t","type":"quantitative","scale":{"domain":[-6.3,128.3],"nice":false,"zero":false},"axis":{"values":[0,12,24,36,48,60,72,84,96,108,120],"title":null}},"y":{"field":"s","type":"quantitative","scale":{"domain":[-0.051,1.059],"nice":false,"zero":false},"axis":{"values":[0,0.2,0.4,0.6,0.8,1],"format":".1f","title":"EFS"}}},
    "layer":[
     {"data":{"name":"km"},"transform":[{"filter":"datum.p=='c'"}],"mark":{"type":"line","interpolate":"step-after","color":"#a3272d","strokeWidth":1.3},"encoding":{"strokeDash":{"field":"g","type":"nominal","scale":{"domain":["+","-"],"range":[[1,0],[1.5,1.2]]},"legend":null}}},
     {"data":{"name":"km"},"transform":[{"filter":"datum.p=='c'&&datum.c==1"}],"mark":{"type":"point","shape":"M0,-1L0,1","size":20,"filled":false,"color":"#a3272d","strokeWidth":0.8,"opacity":1}},
     {"data":{"name":"lab"},"transform":[{"filter":"datum.p=='c'&&datum.k=='c'"}],"mark":{"type":"text","font":"Liberation Sans","fontWeight":"bold","fontSize":7,"color":"#222"},"encoding":{"text":{"field":"txt"}}},
     {"data":{"name":"lab"},"transform":[{"filter":"datum.p=='c'&&datum.k=='r'"}],"mark":{"type":"text","font":"Liberation Sans","fontWeight":"bold","fontSize":6.5,"align":"right","color":"#222"},"encoding":{"text":{"field":"txt"}}},
     {"data":{"name":"lab"},"transform":[{"filter":"datum.p=='c'&&datum.k=='l'"}],"mark":{"type":"text","font":"Liberation Serif","fontSize":17,"align":"left","baseline":"alphabetic","color":"#111"},"encoding":{"text":{"field":"txt"}}}
    ]},
   {"width":129,"height":131,"encoding":{"x":{"field":"t","type":"quantitative","scale":{"domain":[-6.3,128.3],"nice":false,"zero":false},"axis":{"values":[0,12,24,36,48,60,72,84,96,108,120],"title":null}},"y":{"field":"s","type":"quantitative","scale":{"domain":[-0.051,1.059],"nice":false,"zero":false},"axis":{"values":[0,0.2,0.4,0.6,0.8,1],"format":".1f","title":null}}},
    "layer":[
     {"data":{"name":"km"},"transform":[{"filter":"datum.p=='d'"}],"mark":{"type":"line","interpolate":"step-after","color":"#a3272d","strokeWidth":1.3},"encoding":{"strokeDash":{"field":"g","type":"nominal","scale":{"domain":["+","-"],"range":[[1,0],[1.5,1.2]]},"legend":null}}},
     {"data":{"name":"km"},"transform":[{"filter":"datum.p=='d'&&datum.c==1"}],"mark":{"type":"point","shape":"M0,-1L0,1","size":20,"filled":false,"color":"#a3272d","strokeWidth":0.8,"opacity":1}},
     {"data":{"name":"lab"},"transform":[{"filter":"datum.p=='d'&&datum.k=='c'"}],"mark":{"type":"text","font":"Liberation Sans","fontWeight":"bold","fontSize":7,"color":"#222"},"encoding":{"text":{"field":"txt"}}},
     {"data":{"name":"lab"},"transform":[{"filter":"datum.p=='d'&&datum.k=='r'"}],"mark":{"type":"text","font":"Liberation Sans","fontWeight":"bold","fontSize":6.5,"align":"right","color":"#222"},"encoding":{"text":{"field":"txt"}}},
     {"data":{"name":"lab"},"transform":[{"filter":"datum.p=='d'&&datum.k=='l'"}],"mark":{"type":"text","font":"Liberation Serif","fontSize":17,"align":"left","baseline":"alphabetic","color":"#111"},"encoding":{"text":{"field":"txt"}}}
    ]}
  ]}
 ]},
 {"title":{"text":"SHH","color":"#e53a44","fontSize":4,"anchor":"start","frame":"bounds","dx":22,"offset":5},"spacing":18,"vconcat":[
  {"spacing":31,"hconcat":[
   {"title":{"text":"RT","offset":4,"dx":-6},"width":129,"height":131,"encoding":{"x":{"field":"t","type":"quantitative","scale":{"domain":[-6.3,128.3],"nice":false,"zero":false},"axis":{"values":[0,12,24,36,48,60,72,84,96,108,120],"title":null}},"y":{"field":"s","type":"quantitative","scale":{"domain":[-0.051,1.059],"nice":false,"zero":false},"axis":{"values":[0,0.2,0.4,0.6,0.8,1],"format":".1f","title":"OS"}}},
    "layer":[
     {"data":{"name":"km"},"transform":[{"filter":"datum.p=='i'"}],"mark":{"type":"line","interpolate":"step-after","color":"#e53a44","strokeWidth":1.3},"encoding":{"strokeDash":{"field":"g","type":"nominal","scale":{"domain":["+","-"],"range":[[1,0],[1.5,1.2]]},"legend":null}}},
     {"data":{"name":"km"},"transform":[{"filter":"datum.p=='i'&&datum.c==1"}],"mark":{"type":"point","shape":"M0,-1L0,1","size":20,"filled":false,"color":"#e53a44","strokeWidth":0.8,"opacity":1}},
     {"data":{"name":"lab"},"transform":[{"filter":"datum.p=='i'&&datum.k=='c'"}],"mark":{"type":"text","font":"Liberation Sans","fontWeight":"bold","fontSize":7,"color":"#222"},"encoding":{"text":{"field":"txt"}}},
     {"data":{"name":"lab"},"transform":[{"filter":"datum.p=='i'&&datum.k=='r'"}],"mark":{"type":"text","font":"Liberation Sans","fontWeight":"bold","fontSize":6.5,"align":"right","color":"#222"},"encoding":{"text":{"field":"txt"}}},
     {"data":{"name":"lab"},"transform":[{"filter":"datum.p=='i'&&datum.k=='l'"}],"mark":{"type":"text","font":"Liberation Serif","fontSize":17,"align":"left","baseline":"alphabetic","color":"#111"},"encoding":{"text":{"field":"txt"}}}
    ]},
   {"title":{"text":"CHT","offset":4},"width":129,"height":131,"encoding":{"x":{"field":"t","type":"quantitative","scale":{"domain":[-6.3,128.3],"nice":false,"zero":false},"axis":{"values":[0,12,24,36,48,60,72,84,96,108,120],"title":null}},"y":{"field":"s","type":"quantitative","scale":{"domain":[-0.051,1.059],"nice":false,"zero":false},"axis":{"values":[0,0.2,0.4,0.6,0.8,1],"format":".1f","title":null}}},
    "layer":[
     {"data":{"name":"km"},"transform":[{"filter":"datum.p=='j'"}],"mark":{"type":"line","interpolate":"step-after","color":"#e53a44","strokeWidth":1.3},"encoding":{"strokeDash":{"field":"g","type":"nominal","scale":{"domain":["+","-"],"range":[[1,0],[1.5,1.2]]},"legend":null}}},
     {"data":{"name":"km"},"transform":[{"filter":"datum.p=='j'&&datum.c==1"}],"mark":{"type":"point","shape":"M0,-1L0,1","size":20,"filled":false,"color":"#e53a44","strokeWidth":0.8,"opacity":1}},
     {"data":{"name":"lab"},"transform":[{"filter":"datum.p=='j'&&datum.k=='c'"}],"mark":{"type":"text","font":"Liberation Sans","fontWeight":"bold","fontSize":7,"color":"#222"},"encoding":{"text":{"field":"txt"}}},
     {"data":{"name":"lab"},"transform":[{"filter":"datum.p=='j'&&datum.k=='r'"}],"mark":{"type":"text","font":"Liberation Sans","fontWeight":"bold","fontSize":6.5,"align":"right","color":"#222"},"encoding":{"text":{"field":"txt"}}},
     {"data":{"name":"lab"},"transform":[{"filter":"datum.p=='j'&&datum.k=='l'"}],"mark":{"type":"text","font":"Liberation Serif","fontSize":17,"align":"left","baseline":"alphabetic","color":"#111"},"encoding":{"text":{"field":"txt"}}}
    ]}
  ]},
  {"spacing":31,"hconcat":[
   {"width":129,"height":131,"encoding":{"x":{"field":"t","type":"quantitative","scale":{"domain":[-6.3,128.3],"nice":false,"zero":false},"axis":{"values":[0,12,24,36,48,60,72,84,96,108,120],"title":null}},"y":{"field":"s","type":"quantitative","scale":{"domain":[-0.051,1.059],"nice":false,"zero":false},"axis":{"values":[0,0.2,0.4,0.6,0.8,1],"format":".1f","title":"EFS"}}},
    "layer":[
     {"data":{"name":"km"},"transform":[{"filter":"datum.p=='k'"}],"mark":{"type":"line","interpolate":"step-after","color":"#e53a44","strokeWidth":1.3},"encoding":{"strokeDash":{"field":"g","type":"nominal","scale":{"domain":["+","-"],"range":[[1,0],[1.5,1.2]]},"legend":null}}},
     {"data":{"name":"km"},"transform":[{"filter":"datum.p=='k'&&datum.c==1"}],"mark":{"type":"point","shape":"M0,-1L0,1","size":20,"filled":false,"color":"#e53a44","strokeWidth":0.8,"opacity":1}},
     {"data":{"name":"lab"},"transform":[{"filter":"datum.p=='k'&&datum.k=='c'"}],"mark":{"type":"text","font":"Liberation Sans","fontWeight":"bold","fontSize":7,"color":"#222"},"encoding":{"text":{"field":"txt"}}},
     {"data":{"name":"lab"},"transform":[{"filter":"datum.p=='k'&&datum.k=='r'"}],"mark":{"type":"text","font":"Liberation Sans","fontWeight":"bold","fontSize":6.5,"align":"right","color":"#222"},"encoding":{"text":{"field":"txt"}}},
     {"data":{"name":"lab"},"transform":[{"filter":"datum.p=='k'&&datum.k=='l'"}],"mark":{"type":"text","font":"Liberation Serif","fontSize":17,"align":"left","baseline":"alphabetic","color":"#111"},"encoding":{"text":{"field":"txt"}}}
    ]},
   {"width":129,"height":131,"encoding":{"x":{"field":"t","type":"quantitative","scale":{"domain":[-6.3,128.3],"nice":false,"zero":false},"axis":{"values":[0,12,24,36,48,60,72,84,96,108,120],"title":null}},"y":{"field":"s","type":"quantitative","scale":{"domain":[-0.051,1.059],"nice":false,"zero":false},"axis":{"values":[0,0.2,0.4,0.6,0.8,1],"format":".1f","title":null}}},
    "layer":[
     {"data":{"name":"km"},"transform":[{"filter":"datum.p=='l'"}],"mark":{"type":"line","interpolate":"step-after","color":"#e53a44","strokeWidth":1.3},"encoding":{"strokeDash":{"field":"g","type":"nominal","scale":{"domain":["+","-"],"range":[[1,0],[1.5,1.2]]},"legend":null}}},
     {"data":{"name":"km"},"transform":[{"filter":"datum.p=='l'&&datum.c==1"}],"mark":{"type":"point","shape":"M0,-1L0,1","size":20,"filled":false,"color":"#e53a44","strokeWidth":0.8,"opacity":1}},
     {"data":{"name":"lab"},"transform":[{"filter":"datum.p=='l'&&datum.k=='c'"}],"mark":{"type":"text","font":"Liberation Sans","fontWeight":"bold","fontSize":7,"color":"#222"},"encoding":{"text":{"field":"txt"}}},
     {"data":{"name":"lab"},"transform":[{"filter":"datum.p=='l'&&datum.k=='r'"}],"mark":{"type":"text","font":"Liberation Sans","fontWeight":"bold","fontSize":6.5,"align":"right","color":"#222"},"encoding":{"text":{"field":"txt"}}},
     {"data":{"name":"lab"},"transform":[{"filter":"datum.p=='l'&&datum.k=='l'"}],"mark":{"type":"text","font":"Liberation Serif","fontSize":17,"align":"left","baseline":"alphabetic","color":"#111"},"encoding":{"text":{"field":"txt"}}}
    ]}
  ]}
 ]}
 ]},
 {"title":{"text":"NON-SHH/WNT","color":"#f0a032","fontSize":29,"anchor":"start","frame":"bounds","dx":6,"offset":4},"spacing":21,"vconcat":[
  {"spacing":31,"hconcat":[
   {"title":{"text":"RT","offset":0,"dx":-6},"width":129,"height":131,"encoding":{"x":{"field":"t","type":"quantitative","scale":{"domain":[-6.3,128.3],"nice":false,"zero":false},"axis":{"values":[0,12,24,36,48,60,72,84,96,108,120],"title":null}},"y":{"field":"s","type":"quantitative","scale":{"domain":[-0.051,1.059],"nice":false,"zero":false},"axis":{"values":[0,0.2,0.4,0.6,0.8,1],"format":".1f","title":"OS"}}},
    "layer":[
     {"data":{"name":"km"},"transform":[{"filter":"datum.p=='q'"}],"mark":{"type":"line","interpolate":"step-after","color":"#f0a032","strokeWidth":1.3},"encoding":{"strokeDash":{"field":"g","type":"nominal","scale":{"domain":["+","-"],"range":[[1,0],[1.5,1.2]]},"legend":null}}},
     {"data":{"name":"km"},"transform":[{"filter":"datum.p=='q'&&datum.c==1"}],"mark":{"type":"point","shape":"M0,-1L0,1","size":20,"filled":false,"color":"#f0a032","strokeWidth":0.8,"opacity":1}},
     {"data":{"name":"lab"},"transform":[{"filter":"datum.p=='q'&&datum.k=='c'"}],"mark":{"type":"text","font":"Liberation Sans","fontWeight":"bold","fontSize":7,"color":"#222"},"encoding":{"text":{"field":"txt"}}},
     {"data":{"name":"lab"},"transform":[{"filter":"datum.p=='q'&&datum.k=='r'"}],"mark":{"type":"text","font":"Liberation Sans","fontWeight":"bold","fontSize":6.5,"align":"right","color":"#222"},"encoding":{"text":{"field":"txt"}}},
     {"data":{"name":"lab"},"transform":[{"filter":"datum.p=='q'&&datum.k=='l'"}],"mark":{"type":"text","font":"Liberation Serif","fontSize":17,"align":"left","baseline":"alphabetic","color":"#111"},"encoding":{"text":{"field":"txt"}}}
    ]},
   {"title":{"text":"CHT","offset":0},"width":129,"height":131,"encoding":{"x":{"field":"t","type":"quantitative","scale":{"domain":[-6.3,128.3],"nice":false,"zero":false},"axis":{"values":[0,12,24,36,48,60,72,84,96,108,120],"title":null}},"y":{"field":"s","type":"quantitative","scale":{"domain":[-0.051,1.059],"nice":false,"zero":false},"axis":{"values":[0,0.2,0.4,0.6,0.8,1],"format":".1f","title":null}}},
    "layer":[
     {"data":{"name":"km"},"transform":[{"filter":"datum.p=='r'"}],"mark":{"type":"line","interpolate":"step-after","color":"#f0a032","strokeWidth":1.3},"encoding":{"strokeDash":{"field":"g","type":"nominal","scale":{"domain":["+","-"],"range":[[1,0],[1.5,1.2]]},"legend":null}}},
     {"data":{"name":"km"},"transform":[{"filter":"datum.p=='r'&&datum.c==1"}],"mark":{"type":"point","shape":"M0,-1L0,1","size":20,"filled":false,"color":"#f0a032","strokeWidth":0.8,"opacity":1}},
     {"data":{"name":"lab"},"transform":[{"filter":"datum.p=='r'&&datum.k=='c'"}],"mark":{"type":"text","font":"Liberation Sans","fontWeight":"bold","fontSize":7,"color":"#222"},"encoding":{"text":{"field":"txt"}}},
     {"data":{"name":"lab"},"transform":[{"filter":"datum.p=='r'&&datum.k=='r'"}],"mark":{"type":"text","font":"Liberation Sans","fontWeight":"bold","fontSize":6.5,"align":"right","color":"#222"},"encoding":{"text":{"field":"txt"}}},
     {"data":{"name":"lab"},"transform":[{"filter":"datum.p=='r'&&datum.k=='l'"}],"mark":{"type":"text","font":"Liberation Serif","fontSize":17,"align":"left","baseline":"alphabetic","color":"#111"},"encoding":{"text":{"field":"txt"}}}
    ]}
  ]},
  {"spacing":31,"hconcat":[
   {"width":129,"height":131,"encoding":{"x":{"field":"t","type":"quantitative","scale":{"domain":[-6.3,128.3],"nice":false,"zero":false},"axis":{"values":[0,12,24,36,48,60,72,84,96,108,120],"title":null}},"y":{"field":"s","type":"quantitative","scale":{"domain":[-0.051,1.059],"nice":false,"zero":false},"axis":{"values":[0,0.2,0.4,0.6,0.8,1],"format":".1f","title":"EFS"}}},
    "layer":[
     {"data":{"name":"km"},"transform":[{"filter":"datum.p=='s'"}],"mark":{"type":"line","interpolate":"step-after","color":"#f0a032","strokeWidth":1.3},"encoding":{"strokeDash":{"field":"g","type":"nominal","scale":{"domain":["+","-"],"range":[[1,0],[1.5,1.2]]},"legend":null}}},
     {"data":{"name":"km"},"transform":[{"filter":"datum.p=='s'&&datum.c==1"}],"mark":{"type":"point","shape":"M0,-1L0,1","size":20,"filled":false,"color":"#f0a032","strokeWidth":0.8,"opacity":1}},
     {"data":{"name":"lab"},"transform":[{"filter":"datum.p=='s'&&datum.k=='c'"}],"mark":{"type":"text","font":"Liberation Sans","fontWeight":"bold","fontSize":7,"color":"#222"},"encoding":{"text":{"field":"txt"}}},
     {"data":{"name":"lab"},"transform":[{"filter":"datum.p=='s'&&datum.k=='r'"}],"mark":{"type":"text","font":"Liberation Sans","fontWeight":"bold","fontSize":6.5,"align":"right","color":"#222"},"encoding":{"text":{"field":"txt"}}},
     {"data":{"name":"lab"},"transform":[{"filter":"datum.p=='s'&&datum.k=='l'"}],"mark":{"type":"text","font":"Liberation Serif","fontSize":17,"align":"left","baseline":"alphabetic","color":"#111"},"encoding":{"text":{"field":"txt"}}}
    ]},
   {"width":129,"height":131,"encoding":{"x":{"field":"t","type":"quantitative","scale":{"domain":[-6.3,128.3],"nice":false,"zero":false},"axis":{"values":[0,12,24,36,48,60,72,84,96,108,120],"title":null}},"y":{"field":"s","type":"quantitative","scale":{"domain":[-0.051,1.059],"nice":false,"zero":false},"axis":{"values":[0,0.2,0.4,0.6,0.8,1],"format":".1f","title":null}}},
    "layer":[
     {"data":{"name":"km"},"transform":[{"filter":"datum.p=='t'"}],"mark":{"type":"line","interpolate":"step-after","color":"#f0a032","strokeWidth":1.3},"encoding":{"strokeDash":{"field":"g","type":"nominal","scale":{"domain":["+","-"],"range":[[1,0],[1.5,1.2]]},"legend":null}}},
     {"data":{"name":"km"},"transform":[{"filter":"datum.p=='t'&&datum.c==1"}],"mark":{"type":"point","shape":"M0,-1L0,1","size":20,"filled":false,"color":"#f0a032","strokeWidth":0.8,"opacity":1}},
     {"data":{"name":"lab"},"transform":[{"filter":"datum.p=='t'&&datum.k=='c'"}],"mark":{"type":"text","font":"Liberation Sans","fontWeight":"bold","fontSize":7,"color":"#222"},"encoding":{"text":{"field":"txt"}}},
     {"data":{"name":"lab"},"transform":[{"filter":"datum.p=='t'&&datum.k=='r'"}],"mark":{"type":"text","font":"Liberation Sans","fontWeight":"bold","fontSize":6.5,"align":"right","color":"#222"},"encoding":{"text":{"field":"txt"}}},
     {"data":{"name":"lab"},"transform":[{"filter":"datum.p=='t'&&datum.k=='l'"}],"mark":{"type":"text","font":"Liberation Serif","fontSize":17,"align":"left","baseline":"alphabetic","color":"#111"},"encoding":{"text":{"field":"txt"}}}
    ]}
  ]}
 ]}
]},
{"spacing":18,"vconcat":[
 {"title":{"text":"DMB","color":"#8e8e8e","fontSize":29,"anchor":"start","frame":"bounds","dx":21,"offset":2},"spacing":18,"vconcat":[
  {"spacing":31,"hconcat":[
   {"title":{"text":"RT","offset":3},"width":129,"height":131,"encoding":{"x":{"field":"t","type":"quantitative","scale":{"domain":[-6.3,128.3],"nice":false,"zero":false},"axis":{"values":[0,12,24,36,48,60,72,84,96,108,120],"title":null}},"y":{"field":"s","type":"quantitative","scale":{"domain":[-0.051,1.059],"nice":false,"zero":false},"axis":{"values":[0,0.2,0.4,0.6,0.8,1],"format":".1f","title":"OS"}}},
    "layer":[
     {"data":{"name":"km"},"transform":[{"filter":"datum.p=='e'"}],"mark":{"type":"line","interpolate":"step-after","color":"#8e8e8e","strokeWidth":1.3},"encoding":{"strokeDash":{"field":"g","type":"nominal","scale":{"domain":["+","-"],"range":[[1,0],[1.5,1.2]]},"legend":null}}},
     {"data":{"name":"km"},"transform":[{"filter":"datum.p=='e'&&datum.c==1"}],"mark":{"type":"point","shape":"M0,-1L0,1","size":20,"filled":false,"color":"#8e8e8e","strokeWidth":0.8,"opacity":1}},
     {"data":{"name":"lab"},"transform":[{"filter":"datum.p=='e'&&datum.k=='c'"}],"mark":{"type":"text","font":"Liberation Sans","fontWeight":"bold","fontSize":7,"color":"#222"},"encoding":{"text":{"field":"txt"}}},
     {"data":{"name":"lab"},"transform":[{"filter":"datum.p=='e'&&datum.k=='r'"}],"mark":{"type":"text","font":"Liberation Sans","fontWeight":"bold","fontSize":6.5,"align":"right","color":"#222"},"encoding":{"text":{"field":"txt"}}},
     {"data":{"name":"lab"},"transform":[{"filter":"datum.p=='e'&&datum.k=='l'"}],"mark":{"type":"text","font":"Liberation Serif","fontSize":17,"align":"left","baseline":"alphabetic","color":"#111"},"encoding":{"text":{"field":"txt"}}}
    ]},
   {"title":{"text":"CHT","offset":3},"width":129,"height":131,"encoding":{"x":{"field":"t","type":"quantitative","scale":{"domain":[-6.3,128.3],"nice":false,"zero":false},"axis":{"values":[0,12,24,36,48,60,72,84,96,108,120],"title":null}},"y":{"field":"s","type":"quantitative","scale":{"domain":[-0.051,1.059],"nice":false,"zero":false},"axis":{"values":[0,0.2,0.4,0.6,0.8,1],"format":".1f","title":null}}},
    "layer":[
     {"data":{"name":"km"},"transform":[{"filter":"datum.p=='f'"}],"mark":{"type":"line","interpolate":"step-after","color":"#8e8e8e","strokeWidth":1.3},"encoding":{"strokeDash":{"field":"g","type":"nominal","scale":{"domain":["+","-"],"range":[[1,0],[1.5,1.2]]},"legend":null}}},
     {"data":{"name":"km"},"transform":[{"filter":"datum.p=='f'&&datum.c==1"}],"mark":{"type":"point","shape":"M0,-1L0,1","size":20,"filled":false,"color":"#8e8e8e","strokeWidth":0.8,"opacity":1}},
     {"data":{"name":"lab"},"transform":[{"filter":"datum.p=='f'&&datum.k=='c'"}],"mark":{"type":"text","font":"Liberation Sans","fontWeight":"bold","fontSize":7,"color":"#222"},"encoding":{"text":{"field":"txt"}}},
     {"data":{"name":"lab"},"transform":[{"filter":"datum.p=='f'&&datum.k=='r'"}],"mark":{"type":"text","font":"Liberation Sans","fontWeight":"bold","fontSize":6.5,"align":"right","color":"#222"},"encoding":{"text":{"field":"txt"}}},
     {"data":{"name":"lab"},"transform":[{"filter":"datum.p=='f'&&datum.k=='l'"}],"mark":{"type":"text","font":"Liberation Serif","fontSize":17,"align":"left","baseline":"alphabetic","color":"#111"},"encoding":{"text":{"field":"txt"}}}
    ]}
  ]},
  {"spacing":31,"hconcat":[
   {"width":129,"height":131,"encoding":{"x":{"field":"t","type":"quantitative","scale":{"domain":[-6.3,128.3],"nice":false,"zero":false},"axis":{"values":[0,12,24,36,48,60,72,84,96,108,120],"title":null}},"y":{"field":"s","type":"quantitative","scale":{"domain":[-0.051,1.059],"nice":false,"zero":false},"axis":{"values":[0,0.2,0.4,0.6,0.8,1],"format":".1f","title":"EFS"}}},
    "layer":[
     {"data":{"name":"km"},"transform":[{"filter":"datum.p=='g'"}],"mark":{"type":"line","interpolate":"step-after","color":"#8e8e8e","strokeWidth":1.3},"encoding":{"strokeDash":{"field":"g","type":"nominal","scale":{"domain":["+","-"],"range":[[1,0],[1.5,1.2]]},"legend":null}}},
     {"data":{"name":"km"},"transform":[{"filter":"datum.p=='g'&&datum.c==1"}],"mark":{"type":"point","shape":"M0,-1L0,1","size":20,"filled":false,"color":"#8e8e8e","strokeWidth":0.8,"opacity":1}},
     {"data":{"name":"lab"},"transform":[{"filter":"datum.p=='g'&&datum.k=='c'"}],"mark":{"type":"text","font":"Liberation Sans","fontWeight":"bold","fontSize":7,"color":"#222"},"encoding":{"text":{"field":"txt"}}},
     {"data":{"name":"lab"},"transform":[{"filter":"datum.p=='g'&&datum.k=='r'"}],"mark":{"type":"text","font":"Liberation Sans","fontWeight":"bold","fontSize":6.5,"align":"right","color":"#222"},"encoding":{"text":{"field":"txt"}}},
     {"data":{"name":"lab"},"transform":[{"filter":"datum.p=='g'&&datum.k=='l'"}],"mark":{"type":"text","font":"Liberation Serif","fontSize":17,"align":"left","baseline":"alphabetic","color":"#111"},"encoding":{"text":{"field":"txt"}}}
    ]},
   {"width":129,"height":131,"encoding":{"x":{"field":"t","type":"quantitative","scale":{"domain":[-6.3,128.3],"nice":false,"zero":false},"axis":{"values":[0,12,24,36,48,60,72,84,96,108,120],"title":null}},"y":{"field":"s","type":"quantitative","scale":{"domain":[-0.051,1.059],"nice":false,"zero":false},"axis":{"values":[0,0.2,0.4,0.6,0.8,1],"format":".1f","title":null}}},
    "layer":[
     {"data":{"name":"km"},"transform":[{"filter":"datum.p=='h'"}],"mark":{"type":"line","interpolate":"step-after","color":"#8e8e8e","strokeWidth":1.3},"encoding":{"strokeDash":{"field":"g","type":"nominal","scale":{"domain":["+","-"],"range":[[1,0],[1.5,1.2]]},"legend":null}}},
     {"data":{"name":"km"},"transform":[{"filter":"datum.p=='h'&&datum.c==1"}],"mark":{"type":"point","shape":"M0,-1L0,1","size":20,"filled":false,"color":"#8e8e8e","strokeWidth":0.8,"opacity":1}},
     {"data":{"name":"lab"},"transform":[{"filter":"datum.p=='h'&&datum.k=='c'"}],"mark":{"type":"text","font":"Liberation Sans","fontWeight":"bold","fontSize":7,"color":"#222"},"encoding":{"text":{"field":"txt"}}},
     {"data":{"name":"lab"},"transform":[{"filter":"datum.p=='h'&&datum.k=='r'"}],"mark":{"type":"text","font":"Liberation Sans","fontWeight":"bold","fontSize":6.5,"align":"right","color":"#222"},"encoding":{"text":{"field":"txt"}}},
     {"data":{"name":"lab"},"transform":[{"filter":"datum.p=='h'&&datum.k=='l'"}],"mark":{"type":"text","font":"Liberation Serif","fontSize":17,"align":"left","baseline":"alphabetic","color":"#111"},"encoding":{"text":{"field":"txt"}}}
    ]}
  ]}
 ]},
 {"title":{"text":"WNT","color":"#5fcf6a","fontSize":4,"anchor":"start","frame":"bounds","dx":13,"offset":9},"spacing":7,"vconcat":[
  {"spacing":31,"hconcat":[
   {"title":{"text":"RT","offset":0},"width":129,"height":131,"encoding":{"x":{"field":"t","type":"quantitative","scale":{"domain":[-6.3,128.3],"nice":false,"zero":false},"axis":{"values":[0,12,24,36,48,60,72,84,96,108,120],"title":null}},"y":{"field":"s","type":"quantitative","scale":{"domain":[-0.051,1.059],"nice":false,"zero":false},"axis":{"values":[0,0.2,0.4,0.6,0.8,1],"format":".1f","title":"OS"}}},
    "layer":[
     {"data":{"name":"km"},"transform":[{"filter":"datum.p=='m'"}],"mark":{"type":"line","interpolate":"step-after","color":"#3db54a","strokeWidth":1.3},"encoding":{"strokeDash":{"field":"g","type":"nominal","scale":{"domain":["+","-"],"range":[[1,0],[1.5,1.2]]},"legend":null}}},
     {"data":{"name":"km"},"transform":[{"filter":"datum.p=='m'&&datum.c==1"}],"mark":{"type":"point","shape":"M0,-1L0,1","size":20,"filled":false,"color":"#3db54a","strokeWidth":0.8,"opacity":1}},
     {"data":{"name":"lab"},"transform":[{"filter":"datum.p=='m'&&datum.k=='c'"}],"mark":{"type":"text","font":"Liberation Sans","fontWeight":"bold","fontSize":7,"color":"#222"},"encoding":{"text":{"field":"txt"}}},
     {"data":{"name":"lab"},"transform":[{"filter":"datum.p=='m'&&datum.k=='r'"}],"mark":{"type":"text","font":"Liberation Sans","fontWeight":"bold","fontSize":6.5,"align":"right","color":"#222"},"encoding":{"text":{"field":"txt"}}},
     {"data":{"name":"lab"},"transform":[{"filter":"datum.p=='m'&&datum.k=='l'"}],"mark":{"type":"text","font":"Liberation Serif","fontSize":17,"align":"left","baseline":"alphabetic","color":"#111"},"encoding":{"text":{"field":"txt"}}}
    ]},
   {"title":{"text":"CHT","offset":0},"width":129,"height":131,"encoding":{"x":{"field":"t","type":"quantitative","scale":{"domain":[-6.3,128.3],"nice":false,"zero":false},"axis":{"values":[0,12,24,36,48,60,72,84,96,108,120],"title":null}},"y":{"field":"s","type":"quantitative","scale":{"domain":[-0.051,1.059],"nice":false,"zero":false},"axis":{"values":[0,0.2,0.4,0.6,0.8,1],"format":".1f","title":null}}},
    "layer":[
     {"data":{"name":"km"},"transform":[{"filter":"datum.p=='n'"}],"mark":{"type":"line","interpolate":"step-after","color":"#3db54a","strokeWidth":1.3},"encoding":{"strokeDash":{"field":"g","type":"nominal","scale":{"domain":["+","-"],"range":[[1,0],[1.5,1.2]]},"legend":null}}},
     {"data":{"name":"km"},"transform":[{"filter":"datum.p=='n'&&datum.c==1"}],"mark":{"type":"point","shape":"M0,-1L0,1","size":20,"filled":false,"color":"#3db54a","strokeWidth":0.8,"opacity":1}},
     {"data":{"name":"lab"},"transform":[{"filter":"datum.p=='n'&&datum.k=='c'"}],"mark":{"type":"text","font":"Liberation Sans","fontWeight":"bold","fontSize":7,"color":"#222"},"encoding":{"text":{"field":"txt"}}},
     {"data":{"name":"lab"},"transform":[{"filter":"datum.p=='n'&&datum.k=='r'"}],"mark":{"type":"text","font":"Liberation Sans","fontWeight":"bold","fontSize":6.5,"align":"right","color":"#222"},"encoding":{"text":{"field":"txt"}}},
     {"data":{"name":"lab"},"transform":[{"filter":"datum.p=='n'&&datum.k=='l'"}],"mark":{"type":"text","font":"Liberation Serif","fontSize":17,"align":"left","baseline":"alphabetic","color":"#111"},"encoding":{"text":{"field":"txt"}}}
    ]}
  ]},
  {"spacing":31,"hconcat":[
   {"width":129,"height":131,"encoding":{"x":{"field":"t","type":"quantitative","scale":{"domain":[-6.3,128.3],"nice":false,"zero":false},"axis":{"values":[0,12,24,36,48,60,72,84,96,108,120],"title":null}},"y":{"field":"s","type":"quantitative","scale":{"domain":[-0.051,1.059],"nice":false,"zero":false},"axis":{"values":[0,0.2,0.4,0.6,0.8,1],"format":".1f","title":"EFS"}}},
    "layer":[
     {"data":{"name":"km"},"transform":[{"filter":"datum.p=='o'"}],"mark":{"type":"line","interpolate":"step-after","color":"#3db54a","strokeWidth":1.3},"encoding":{"strokeDash":{"field":"g","type":"nominal","scale":{"domain":["+","-"],"range":[[1,0],[1.5,1.2]]},"legend":null}}},
     {"data":{"name":"km"},"transform":[{"filter":"datum.p=='o'&&datum.c==1"}],"mark":{"type":"point","shape":"M0,-1L0,1","size":20,"filled":false,"color":"#3db54a","strokeWidth":0.8,"opacity":1}},
     {"data":{"name":"lab"},"transform":[{"filter":"datum.p=='o'&&datum.k=='c'"}],"mark":{"type":"text","font":"Liberation Sans","fontWeight":"bold","fontSize":7,"color":"#222"},"encoding":{"text":{"field":"txt"}}},
     {"data":{"name":"lab"},"transform":[{"filter":"datum.p=='o'&&datum.k=='r'"}],"mark":{"type":"text","font":"Liberation Sans","fontWeight":"bold","fontSize":6.5,"align":"right","color":"#222"},"encoding":{"text":{"field":"txt"}}},
     {"data":{"name":"lab"},"transform":[{"filter":"datum.p=='o'&&datum.k=='l'"}],"mark":{"type":"text","font":"Liberation Serif","fontSize":17,"align":"left","baseline":"alphabetic","color":"#111"},"encoding":{"text":{"field":"txt"}}}
    ]},
   {"width":129,"height":131,"encoding":{"x":{"field":"t","type":"quantitative","scale":{"domain":[-6.3,128.3],"nice":false,"zero":false},"axis":{"values":[0,12,24,36,48,60,72,84,96,108,120],"title":null}},"y":{"field":"s","type":"quantitative","scale":{"domain":[-0.051,1.059],"nice":false,"zero":false},"axis":{"values":[0,0.2,0.4,0.6,0.8,1],"format":".1f","title":null}}},
    "layer":[
     {"data":{"name":"km"},"transform":[{"filter":"datum.p=='p'"}],"mark":{"type":"line","interpolate":"step-after","color":"#3db54a","strokeWidth":1.3},"encoding":{"strokeDash":{"field":"g","type":"nominal","scale":{"domain":["+","-"],"range":[[1,0],[1.5,1.2]]},"legend":null}}},
     {"data":{"name":"km"},"transform":[{"filter":"datum.p=='p'&&datum.c==1"}],"mark":{"type":"point","shape":"M0,-1L0,1","size":20,"filled":false,"color":"#3db54a","strokeWidth":0.8,"opacity":1}},
     {"data":{"name":"lab"},"transform":[{"filter":"datum.p=='p'&&datum.k=='c'"}],"mark":{"type":"text","font":"Liberation Sans","fontWeight":"bold","fontSize":7,"color":"#222"},"encoding":{"text":{"field":"txt"}}},
     {"data":{"name":"lab"},"transform":[{"filter":"datum.p=='p'&&datum.k=='r'"}],"mark":{"type":"text","font":"Liberation Sans","fontWeight":"bold","fontSize":6.5,"align":"right","color":"#222"},"encoding":{"text":{"field":"txt"}}},
     {"data":{"name":"lab"},"transform":[{"filter":"datum.p=='p'&&datum.k=='l'"}],"mark":{"type":"text","font":"Liberation Serif","fontSize":17,"align":"left","baseline":"alphabetic","color":"#111"},"encoding":{"text":{"field":"txt"}}}
    ]}
  ]}
 ]}
]}
]
}
